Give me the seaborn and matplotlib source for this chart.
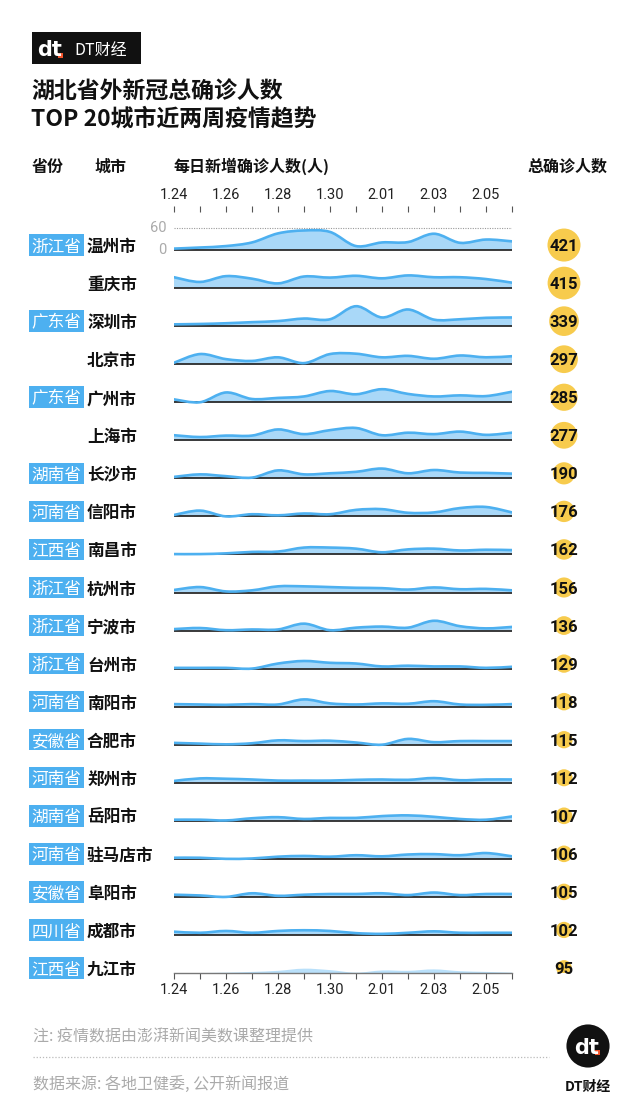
import numpy as np
import matplotlib
matplotlib.use("Agg")
import matplotlib.pyplot as plt
from matplotlib.path import Path
from matplotlib.patches import PathPatch, Rectangle, Circle
import matplotlib.font_manager as fm
import seaborn as sns
import pandas as pd

# ---------------- data ----------------
dates = ["1.24", "1.25", "1.26", "1.27", "1.28", "1.29", "1.30",
         "1.31", "2.01", "2.02", "2.03", "2.04", "2.05", "2.06"]
shown_dates = ["1.24", "1.26", "1.28", "1.30", "2.01", "2.03", "2.05"]

provinces = ["浙江省", "", "广东省", "", "广东省", "", "湖南省", "河南省", "江西省", "浙江省",
             "浙江省", "浙江省", "河南省", "安徽省", "河南省", "湖南省", "河南省", "安徽省", "四川省", "江西省"]
cities = ["温州市", "重庆市", "深圳市", "北京市", "广州市", "上海市", "长沙市", "信阳市", "南昌市", "杭州市",
          "宁波市", "台州市", "南阳市", "合肥市", "郑州市", "岳阳市", "驻马店市", "阜阳市", "成都市", "九江市"]
totals = [421, 415, 339, 297, 285, 277, 190, 176, 162, 156,
          136, 129, 118, 115, 112, 107, 106, 105, 102, 95]

wenzhou   = [4, 7, 11, 21, 46, 54, 50, 11, 21, 22, 45, 20, 29, 24]
chongqing = [30, 17, 33, 26, 13, 32, 29, 34, 27, 35, 30, 30, 25, 15]
shenzhen  = [5, 6, 8, 11, 14, 21, 19, 55, 24, 46, 18, 19, 23, 24]
beijing   = [4, 28, 14, 9, 19, 3, 28, 29, 19, 23, 15, 24, 19, 22]
guangzhou = [8, 0, 27, 9, 12, 16, 31, 22, 36, 23, 16, 19, 17, 29]
shanghai  = [14, 9, 13, 13, 30, 17, 28, 34, 14, 21, 17, 24, 15, 21]
changsha  = [4, 11, 6, 2, 22, 11, 14, 18, 27, 14, 23, 16, 15, 13]
xinyang   = [4, 16, 0, 6, 3, 8, 6, 18, 20, 10, 11, 23, 26, 11]
nanchang  = [1, 1, 3, 7, 8, 19, 19, 16, 6, 14, 16, 11, 13, 12]
hangzhou  = [7, 15, 3, 6, 17, 17, 15, 13, 12, 8, 14, 9, 10, 6]
ningbo    = [4, 7, 1, 3, 3, 19, 1, 8, 11, 8, 27, 12, 6, 10]
taizhou   = [2, 2, 2, 0, 14, 21, 16, 14, 6, 8, 6, 6, 2, 5]
nanyang   = [7, 6, 5, 7, 6, 20, 9, 6, 9, 8, 15, 6, 5, 7]
hefei     = [5, 3, 1, 4, 12, 10, 11, 6, 0, 16, 7, 10, 10, 10]
zhengzhou = [5, 12, 11, 9, 6, 6, 6, 8, 9, 8, 13, 7, 9, 9]
yueyang   = [3, 3, 1, 7, 10, 5, 8, 8, 13, 15, 11, 5, 3, 12]
zhumadian = [3, 3, 0, 1, 6, 8, 6, 10, 7, 12, 13, 10, 16, 7]
fuyang    = [6, 4, 0, 10, 3, 6, 8, 8, 10, 5, 12, 5, 8, 8]
chengdu   = [9, 6, 11, 6, 11, 13, 11, 5, 3, 6, 10, 6, 6, 6]
jiujiang  = [0, 0, 1, 3, 6, 12, 8, 1, 7, 6, 10, 5, 3, 1]

daily = [wenzhou, chongqing, shenzhen, beijing, guangzhou, shanghai, changsha, xinyang,
         nanchang, hangzhou, ningbo, taizhou, nanyang, hefei, zhengzhou, yueyang,
         zhumadian, fuyang, chengdu, jiujiang]

# ---------------- style ----------------
sns.set_theme(style="white")
CJK = ["Noto Sans CJK SC", "DejaVu Sans"]
plt.rcParams["font.family"] = CJK
avail = {f.name for f in fm.fontManager.ttflist}
NUM = ["Liberation Sans Narrow", "Noto Sans CJK SC"] if "Liberation Sans Narrow" in avail else ["Roboto", "Noto Sans CJK SC"]

BLUE = "#4DB0F0"
FILL = "#A9D8F8"
YELLOW = "#F7CB4D"
DARK = "#2b2b2b"

W, H = 641, 1103
fig = plt.figure(figsize=(W / 100, H / 100), dpi=100)
fig.patch.set_facecolor("white")


def fx(x):
    return x / W


def fy(y):
    return 1 - y / H


TOP_PX, BOT_PX = 212, 973
FIRST_BASE = 250
ROW_PX = (BOT_PX - FIRST_BASE) / 19
R = 105  # data units between rows
n_rows = len(cities)
ylim = (-(n_rows - 1) * R, R)
upp = (ylim[1] - ylim[0]) / (BOT_PX - TOP_PX)  # units per pixel

ax = fig.add_axes([fx(174), fy(BOT_PX), (512 - 174) / W, (BOT_PX - TOP_PX) / H])
ax.set_xlim(0, len(dates) - 1)
ax.set_ylim(*ylim)
ax.set_facecolor("none")
x = np.arange(len(dates))


def catmull(xs, ys):
    verts = [(xs[0], ys[0])]
    codes = [Path.MOVETO]
    n = len(xs)
    for k in range(n - 1):
        p0 = np.array([xs[k - 1], ys[k - 1]]) if k > 0 else np.array([xs[k], ys[k]])
        p1 = np.array([xs[k], ys[k]])
        p2 = np.array([xs[k + 1], ys[k + 1]])
        p3 = np.array([xs[k + 2], ys[k + 2]]) if k + 2 < n else p2
        c1 = p1 + (p2 - p0) / 6
        c2 = p2 - (p3 - p1) / 6
        verts += [tuple(c1), tuple(c2), tuple(p2)]
        codes += [Path.CURVE4] * 3
    return verts, codes


for i, vals in enumerate(daily):
    base = -i * R
    ys = np.array(vals, dtype=float) + base
    v, c = catmull(x, ys)
    fill_v = [(x[0], base), (x[0], ys[0])] + v[1:] + [(x[-1], base), (x[0], base)]
    fill_c = [Path.MOVETO, Path.LINETO] + c[1:] + [Path.LINETO, Path.CLOSEPOLY]
    last = i == n_rows - 1
    ax.add_patch(PathPatch(Path(fill_v, fill_c), facecolor=FILL if not last else "#B9E0FA",
                           edgecolor="none", zorder=1))
    if not last:
        ax.plot([x[0], x[-1]], [base, base], color=DARK, lw=1.3, zorder=2, solid_capstyle="butt")
        ax.add_patch(PathPatch(Path(v, c), facecolor="none", edgecolor=BLUE, lw=1.9,
                               zorder=3, capstyle="round", joinstyle="round"))

# 60 reference line for first row
ax.plot([x[0], x[-1]], [60, 60], color="#9a9a9a", lw=0.8, ls=(0, (1, 1.2)), zorder=0)
ax.text(-8 / 26, 60, "60", ha="right", va="center", fontsize=10.5, color="#aaaaaa", family=NUM)
ax.text(-8 / 26, 0, "0", ha="right", va="center", fontsize=10.5, color="#aaaaaa", family=NUM)

# axes ticks
ax.set_xticks(x)
ax.set_xticklabels([d if d in shown_dates else "" for d in dates])
ax.set_yticks([])
for s in ["left", "right", "top"]:
    ax.spines[s].set_visible(False)
ax.spines["bottom"].set_color("#777777")
ax.spines["bottom"].set_linewidth(1.0)
ax.tick_params(axis="x", which="both", top=True, labeltop=True, bottom=True, labelbottom=True,
               direction="out", length=4.5, width=0.8, color="#555555", pad=2,
               labelsize=10.5, labelcolor="#222222")
for lab in ax.get_xticklabels():
    lab.set_family(NUM)
ax.tick_params(axis="x", which="both", bottom=True, pad=3)

# ---------------- row labels ----------------
for i in range(n_rows):
    cy = FIRST_BASE + i * ROW_PX - 5
    if provinces[i]:
        fig.patches.append(Rectangle((fx(29), fy(cy + 10.75)), 55 / W, 21.5 / H,
                                     transform=fig.transFigure, facecolor=BLUE,
                                     edgecolor="none", zorder=1))
        fig.text(fx(56.5), fy(cy), provinces[i], ha="center", va="center_baseline",
                 fontsize=12, color="white", zorder=2)
    fig.text(fx(87), fy(cy), cities[i], ha="left", va="center_baseline", fontsize=12,
             color="#111111", fontweight="bold")

# ---------------- bubbles ----------------
bax = fig.add_axes([fx(540), fy(BOT_PX), 48 / W, (BOT_PX - TOP_PX) / H])
bax.set_xlim(-1, 1)
bax.set_ylim(*ylim)
bub_y = [-i * R + 5 * upp for i in range(n_rows)]
bub = pd.DataFrame({"x": np.zeros(n_rows), "y": bub_y, "total": totals})
sns.scatterplot(data=bub, x="x", y="y", size="total", sizes=(0, 566), size_norm=(0, 421),
                color=YELLOW, edgecolor="none", linewidth=0, legend=False, ax=bax, zorder=2)
for i, t in enumerate(totals):
    bax.text(0, bub_y[i], str(t), ha="center", va="center_baseline", fontsize=12,
             fontweight="bold", color="#111111", family=NUM, zorder=3)
bax.set_xlim(-1, 1)
bax.set_ylim(*ylim)
bax.axis("off")

# ---------------- header ----------------
fig.patches.append(Rectangle((fx(32), fy(64)), 109 / W, 32 / H, transform=fig.transFigure,
                             facecolor="#111111", edgecolor="none"))
fig.text(fx(37), fy(48), "dt", ha="left", va="center_baseline", fontsize=15, fontweight="heavy",
         color="white", family=["DejaVu Sans"])
fig.patches.append(Rectangle((fx(58), fy(58)), 5 / W, 5 / H, transform=fig.transFigure,
                             facecolor="#F2552C", edgecolor="none"))
fig.text(fx(74), fy(48), "DT财经", ha="left", va="center_baseline", fontsize=11.5, color="white")

fig.text(fx(31), fy(90), "湖北省外新冠总确诊人数", ha="left", va="center_baseline",
         fontsize=16.5, fontweight="bold", color="#111111")
fig.text(fx(31), fy(117), "TOP 20城市近两周疫情趋势", ha="left", va="center_baseline",
         fontsize=16.5, fontweight="bold", color="#111111")

hy = fy(165)
fig.text(fx(32), hy, "省份", ha="left", va="center_baseline", fontsize=11.5, fontweight="bold", color="#111111")
fig.text(fx(95), hy, "城市", ha="left", va="center_baseline", fontsize=11.5, fontweight="bold", color="#111111")
fig.text(fx(174), hy, "每日新增确诊人数(人)", ha="left", va="center_baseline", fontsize=11.5,
         fontweight="bold", color="#111111")
fig.text(fx(608), hy, "总确诊人数", ha="right", va="center_baseline", fontsize=11.5,
         fontweight="bold", color="#111111")

# ---------------- footer ----------------
fig.text(fx(33), fy(1035), "注: 疫情数据由澎湃新闻美数课整理提供", ha="left", va="center_baseline",
         fontsize=11.5, color="#aaaaaa")
fig.lines.append(plt.Line2D([fx(33), fx(549)], [fy(1057), fy(1057)], transform=fig.transFigure,
                            color="#bbbbbb", lw=0.9, ls=(0, (1, 1.5))))
fig.text(fx(33), fy(1082), "数据来源: 各地卫健委, 公开新闻报道", ha="left", va="center_baseline",
         fontsize=11.5, color="#aaaaaa")

lax = fig.add_axes([fx(566), fy(1068), 44 / W, 44 / H])
lax.set_xlim(-1, 1)
lax.set_ylim(-1, 1)
lax.set_aspect("equal")
lax.axis("off")
lax.add_patch(Circle((0, 0), 0.98, facecolor="#111111", edgecolor="none"))
lax.text(-0.08, -0.02, "dt", ha="center", va="center_baseline", fontsize=15, fontweight="heavy",
         color="white", family=["DejaVu Sans"])
lax.add_patch(Rectangle((0.32, -0.42), 0.22, 0.22, facecolor="#F2552C", edgecolor="none"))
fig.text(fx(588), fy(1085), "DT财经", ha="center", va="center_baseline", fontsize=10,
         fontweight="bold", color="#111111")

fig.savefig("out.png", dpi=100, facecolor="white")
